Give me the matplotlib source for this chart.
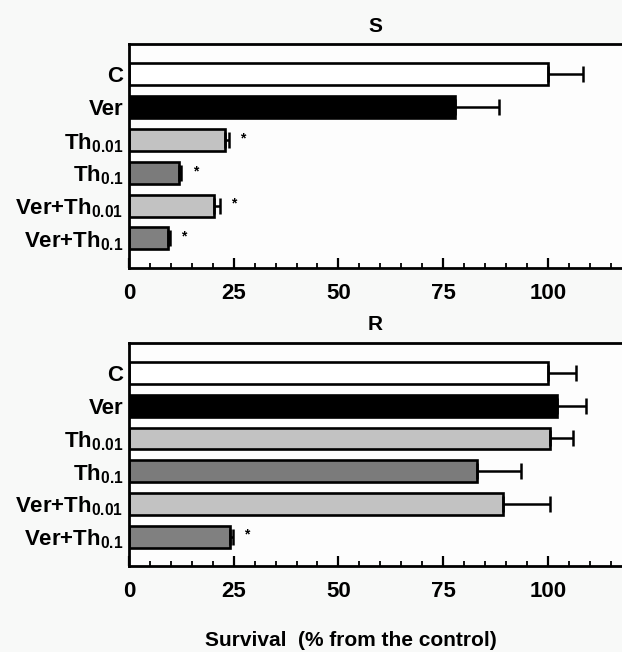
import numpy as np
import matplotlib
matplotlib.use("Agg")
from matplotlib import pyplot as plt
from matplotlib.ticker import MultipleLocator

plt.rcParams['font.family'] = ['Liberation Sans', 'DejaVu Sans']
plt.rcParams['font.weight'] = 'bold'
plt.rcParams['mathtext.fontset'] = 'custom'
plt.rcParams['mathtext.rm'] = 'Liberation Sans:bold'
plt.rcParams['mathtext.it'] = 'Liberation Sans:bold'
plt.rcParams['mathtext.bf'] = 'Liberation Sans:bold'

# data
groups     = ["C", "Ver", "Th$_{0.01}$", "Th$_{0.1}$", "Ver+Th$_{0.01}$", "Ver+Th$_{0.1}$"]
colors     = ["white", "black", "#c2c2c2", "#7b7b7b", "#c2c2c2", "#808080"]
s_values   = [100, 77.8, 22.9, 12.0, 20.2, 9.2]
s_errors   = [8.4, 10.5, 0.9, 0.5, 1.5, 0.5]
s_signif   = [False, False, True, True, True, True]
r_values   = [100, 102.1, 100.4, 83.2, 89.2, 24.0]
r_errors   = [6.7, 7.0, 5.5, 10.3, 11.2, 0.8]
r_signif   = [False, False, False, False, False, True]
x_ticks    = [0, 25, 50, 75, 100]

fig = plt.figure(figsize=(6.22, 6.52), dpi=100)
fig.patch.set_facecolor("#f8f9f8")

def draw_panel(ax, title, values, errors, signif):
    pos = np.arange(len(groups))
    ax.barh(pos, values, height=0.67, color=colors, edgecolor="black", linewidth=1.9, zorder=2)
    ax.errorbar(values, pos, xerr=[np.zeros(len(errors)), errors], fmt="none",
                ecolor="black", elinewidth=1.8, capsize=6, capthick=1.8, zorder=3)
    for p, v, e, s in zip(pos, values, errors, signif):
        if s:
            ax.text(v + e + 3.4, p - 0.05, "*", ha="center", va="center", fontsize=10)
    ax.set_xlim(0, 117.7)
    ax.set_ylim(5.9, -0.92)
    ax.set_yticks(pos)
    ax.set_yticklabels(groups, fontsize=16)
    ax.set_xticks(x_ticks)
    ax.xaxis.set_minor_locator(MultipleLocator(5))
    ax.tick_params(axis="x", which="major", direction="in", length=7, width=1.6, labelsize=16, pad=11)
    ax.tick_params(axis="x", which="minor", direction="in", length=3.5, width=1.3)
    ax.tick_params(axis="y", length=0, pad=4)
    for sp in ["left", "top", "bottom"]:
        ax.spines[sp].set_linewidth(2.0)
    ax.spines["right"].set_visible(False)
    ax.set_facecolor("#fdfdfd")
    ax.set_title(title, fontsize=15, fontweight="bold", pad=9)

ax1 = fig.add_axes([129/622, 1 - 268/652, 1 - 129/622, 224/652])
draw_panel(ax1, "S", s_values, s_errors, s_signif)
ax2 = fig.add_axes([129/622, 1 - 566/652, 1 - 129/622, 223/652])
draw_panel(ax2, "R", r_values, r_errors, r_signif)

fig.text(351/622, 1 - 641/652, "Survival  (% from the control)", ha="center", va="center",
         fontsize=15, fontweight="bold")

fig.savefig("out.png", dpi=100, facecolor=fig.get_facecolor())
